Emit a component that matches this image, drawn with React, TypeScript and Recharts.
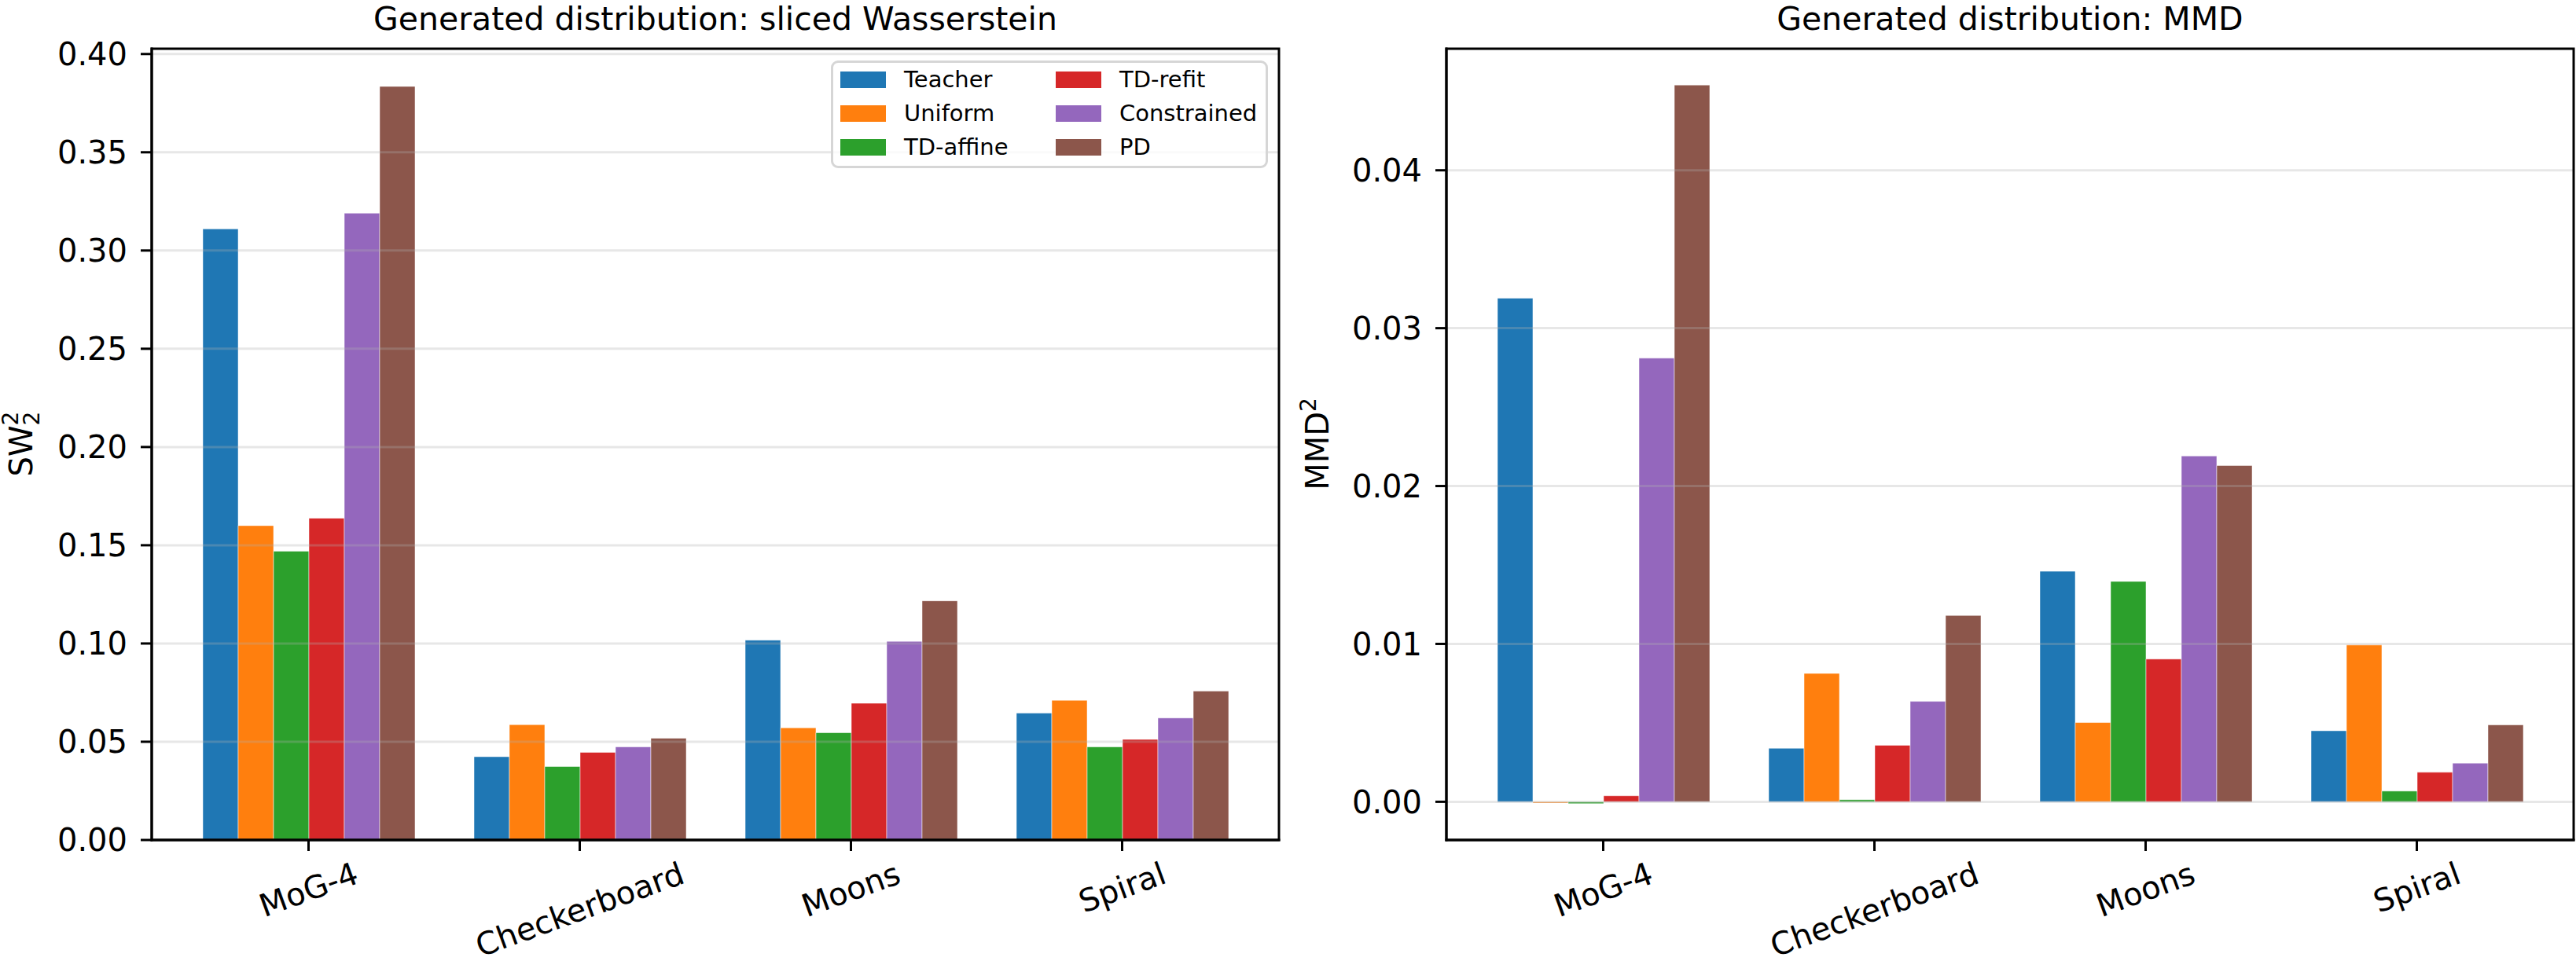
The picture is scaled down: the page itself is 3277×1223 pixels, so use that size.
import React from "react";
import {
  BarChart,
  Bar,
  XAxis,
  YAxis,
  ReferenceLine,
  Legend,
} from "recharts";

const categories = ["MoG-4", "Checkerboard", "Moons", "Spiral"];
const methods = ["Teacher", "Uniform", "TD-affine", "TD-refit", "Constrained", "PD"];
const colors = ["#1f77b4", "#ff7f0e", "#2ca02c", "#d62728", "#9467bd", "#8c564b"];

// sliced Wasserstein (SW_2^2)
const teacherSW = [0.311, 0.0424, 0.1017, 0.0646];
const uniformSW = [0.16, 0.0587, 0.0571, 0.0711];
const affineSW = [0.147, 0.0374, 0.0546, 0.0474];
const refitSW = [0.1638, 0.0446, 0.0696, 0.0512];
const constrainedSW = [0.319, 0.0474, 0.1011, 0.0621];
const pdSW = [0.3835, 0.0518, 0.1217, 0.0758];

// MMD^2
const teacherMMD = [0.0319, 0.00339, 0.0146, 0.0045];
const uniformMMD = [-0.00008, 0.00813, 0.00502, 0.00993];
const affineMMD = [-0.00012, 0.00013, 0.01396, 0.00068];
const refitMMD = [0.00038, 0.00358, 0.00904, 0.00187];
const constrainedMMD = [0.0281, 0.00636, 0.0219, 0.00245];
const pdMMD = [0.0454, 0.0118, 0.0213, 0.00487];

const swTicks = [0, 0.05, 0.1, 0.15, 0.2, 0.25, 0.3, 0.35, 0.4];
const mmdTicks = [0, 0.01, 0.02, 0.03, 0.04];
const swDomain: [number, number] = [0, 0.4027];
const mmdDomain: [number, number] = [-0.00242, 0.0477];

const FONT = '"DejaVu Sans", sans-serif';
const TICK_FS = 40;

// plot frames (axes boxes) in page pixels
const PLOT_TOP = 62;
const PLOT_BOTTOM = 1069;

function buildRows(series: number[][]) {
  return categories.map((name, i) => {
    const row: Record<string, number | string> = { name };
    methods.forEach((m, j) => {
      row[m] = series[j][i];
    });
    return row;
  });
}

const swRows = buildRows([teacherSW, uniformSW, affineSW, refitSW, constrainedSW, pdSW]);
const mmdRows = buildRows([teacherMMD, uniformMMD, affineMMD, refitMMD, constrainedMMD, pdMMD]);

let measureCtx: CanvasRenderingContext2D | null = null;
function textWidth(s: string) {
  if (!measureCtx) measureCtx = document.createElement("canvas").getContext("2d");
  if (!measureCtx) return s.length * TICK_FS * 0.6;
  measureCtx.font = `${TICK_FS}px "DejaVu Sans"`;
  return measureCtx.measureText(s).width;
}

function RotatedTick(props: any) {
  const { x, y, payload } = props;
  const label = String(payload.value);
  const w = textWidth(label);
  const a = (20 * Math.PI) / 180;
  const cy = y + (w * Math.sin(a) + TICK_FS * 1.164 * Math.cos(a)) / 2;
  return (
    <text
      x={x}
      y={cy}
      transform={`rotate(-20, ${x}, ${cy})`}
      textAnchor="middle"
      dominantBaseline="central"
      fontSize={TICK_FS}
      fontFamily={FONT}
      fill="#000"
    >
      {label}
    </text>
  );
}

function LegendBox() {
  const cols = [methods.slice(0, 3), methods.slice(3)];
  return (
    <div
      style={{
        position: "relative",
        width: 556,
        height: 137,
        boxSizing: "border-box",
        border: "3px solid #d6d6d6",
        borderRadius: 9,
        background: "rgba(255,255,255,0.8)",
        fontFamily: FONT,
        fontSize: 29,
      }}
    >
      {cols.map((col, ci) =>
        col.map((m, ri) => (
          <div
            key={m}
            style={{
              position: "absolute",
              left: ci === 0 ? 9 : 283,
              top: 21 + ri * 43 - 10,
              display: "flex",
              alignItems: "center",
              height: 21,
              whiteSpace: "nowrap",
            }}
          >
            <span
              style={{
                display: "inline-block",
                width: 58,
                height: 21,
                background: colors[methods.indexOf(m)],
                marginRight: 23,
              }}
            />
            <span style={{ lineHeight: "21px" }}>{m}</span>
          </div>
        ))
      )}
    </div>
  );
}

interface PanelProps {
  rows: Record<string, number | string>[];
  domain: [number, number];
  ticks: number[];
  left: number;
  width: number;
  marginLeft: number;
  marginRight: number;
  showLegend?: boolean;
}

function Panel({ rows, domain, ticks, left, width, marginLeft, marginRight, showLegend }: PanelProps) {
  const spine = { stroke: "#000", strokeWidth: 3, strokeLinecap: "square" as const };
  return (
    <div style={{ position: "absolute", left, top: 0 }}>
      <BarChart
        width={width}
        height={1223}
        data={rows}
        margin={{ top: PLOT_TOP, right: marginRight, bottom: 14, left: marginLeft }}
        barGap={0}
      >
        <XAxis
          dataKey="name"
          height={140}
          interval={0}
          padding={{ left: 27, right: 27 }}
          axisLine={spine}
          tickLine={{ stroke: "#000", strokeWidth: 3 }}
          tickSize={14}
          tickMargin={5}
          tick={<RotatedTick />}
        />
        <YAxis
          width={150}
          domain={domain}
          ticks={ticks}
          allowDataOverflow
          interval={0}
          axisLine={spine}
          tickLine={{ stroke: "#000", strokeWidth: 3 }}
          tickSize={14}
          tickMargin={17}
          tickFormatter={(v: number) => v.toFixed(2)}
          tick={{ fontSize: TICK_FS, fill: "#000", fontFamily: FONT }}
        />
        {methods.map((m, i) => (
          <Bar
            key={m}
            dataKey={m}
            fill={colors[i]}
            barSize={45}
            stroke="#ffffff"
            strokeWidth={1}
            strokeOpacity={0.5}
            isAnimationActive={false}
          />
        ))}
        {ticks.map((t) => (
          <ReferenceLine
            key={t}
            y={t}
            stroke="#b0b0b0"
            strokeOpacity={0.3}
            strokeWidth={3}
          />
        ))}
        {showLegend && (
          <Legend
            layout="horizontal"
            verticalAlign="middle"
            align="center"
            content={() => <LegendBox />}
            wrapperStyle={{ position: "absolute", left: 1057, top: 77, width: 556, height: 137 }}
          />
        )}
      </BarChart>
    </div>
  );
}

export default function App() {
  return (
    <div
      style={{
        position: "absolute",
        left: 0,
        top: 0,
        width: 3277,
        height: 1223,
        background: "#fff",
        overflow: "hidden",
      }}
    >
      <Panel
        rows={swRows}
        domain={swDomain}
        ticks={swTicks}
        left={0}
        width={1650}
        marginLeft={43}
        marginRight={23}
        showLegend
      />
      <Panel
        rows={mmdRows}
        domain={mmdDomain}
        ticks={mmdTicks}
        left={1650}
        width={1627}
        marginLeft={40}
        marginRight={3}
      />
      <svg
        width={3277}
        height={1223}
        style={{ position: "absolute", left: 0, top: 0, pointerEvents: "none" }}
        fontFamily={FONT}
      >
        {/* axes frames (top/right spines) */}
        <rect x={193} y={PLOT_TOP} width={1434} height={PLOT_BOTTOM - PLOT_TOP} fill="none" stroke="#000" strokeWidth={3} />
        <rect x={1840} y={PLOT_TOP} width={1434} height={PLOT_BOTTOM - PLOT_TOP} fill="none" stroke="#000" strokeWidth={3} />
        <text x={910} y={38} textAnchor="middle" fontSize={41} fill="#000">
          Generated distribution: sliced Wasserstein
        </text>
        <text x={2557} y={38} textAnchor="middle" fontSize={41} fill="#000">
          Generated distribution: MMD
        </text>
        <text
          x={41}
          y={565}
          transform="rotate(-90, 41, 565)"
          textAnchor="middle"
          fontSize={40}
          fill="#000"
        >
          SW
          <tspan fontSize={28} dy={9}>2</tspan>
          <tspan fontSize={28} dx={-17.8} dy={-27}>2</tspan>
        </text>
        <text
          x={1690}
          y={565}
          transform="rotate(-90, 1690, 565)"
          textAnchor="middle"
          fontSize={40}
          fill="#000"
        >
          MMD
          <tspan fontSize={28} dy={-16}>2</tspan>
        </text>
      </svg>
    </div>
  );
}
